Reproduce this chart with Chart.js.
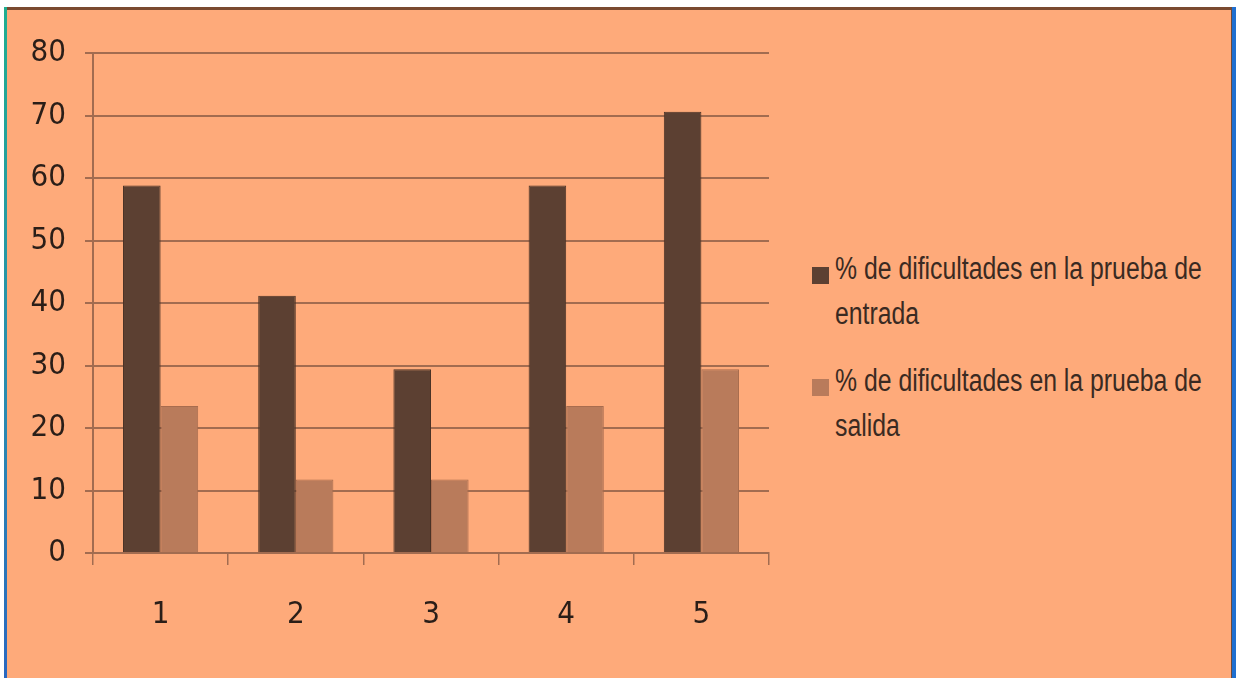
<!DOCTYPE html>
<html>
<head>
<meta charset="utf-8">
<script src="https://cdn.jsdelivr.net/npm/chart.js@4/dist/chart.umd.min.js"></script>
<style>
  html, body { margin: 0; padding: 0; background: #ffffff; width: 1236px; height: 678px; overflow: hidden; }
  #frame { position: absolute; left: 5px; top: 7px; width: 1227px; height: 671px; background: #FEAA7A;
           border-top: 3px solid #7a4a30; box-sizing: border-box; }
  #leftEdge { position: absolute; left: 4px; top: 7px; width: 3px; height: 671px;
              background: linear-gradient(#1fae90, #2a8ab0 60%, #2a68c0); }
  #rightEdge { position: absolute; left: 1231px; top: 7px; width: 5px; height: 671px;
               background: linear-gradient(90deg, #6a4a40 0 1px, #1f6fd0 1px); }
  #c { position: absolute; left: 0; top: 0; }
  .leg { position: absolute; left: 835px; font-family: "Liberation Sans", Arial, sans-serif;
         font-size: 31px; line-height: 45px; color: #3a2a22; white-space: nowrap;
         transform: scaleX(0.8); transform-origin: 0 0; }
  .sw { position: absolute; left: 812px; width: 17px; height: 17px; }
</style>
</head>
<body>
<div id="frame"></div>
<div id="leftEdge"></div>
<div id="rightEdge"></div>
<canvas id="c" width="800" height="678"></canvas>
<div id="legend"></div>
<script>
const categories = ["1", "2", "3", "4", "5"];
const seriesNames = ["% de dificultades en la prueba de entrada", "% de dificultades en la prueba de salida"];
const entrada = [58.82, 41.18, 29.41, 58.82, 70.59];
const salida = [23.53, 11.76, 11.76, 23.53, 29.41];
const yTicks = [0, 10, 20, 30, 40, 50, 60, 70, 80];
const colors = ["#5C4032", "#B97B5B"];

const gridColor = "#A26C50";
const fontFam = '"DejaVu Sans Condensed", "Liberation Sans", sans-serif';

new Chart(document.getElementById("c"), {
  type: "bar",
  data: {
    labels: categories,
    datasets: [
      { label: seriesNames[0], data: entrada, backgroundColor: colors[0], borderColor: "#4a3226", borderWidth: 1 },
      { label: seriesNames[1], data: salida, backgroundColor: colors[1], borderColor: "#a86c4e", borderWidth: 1 }
    ]
  },
  options: {
    responsive: false,
    devicePixelRatio: 1,
    animation: false,
    layout: { padding: { left: 0, top: 53, right: 31, bottom: 0 } },
    plugins: { legend: { display: false }, tooltip: { enabled: false } },
    datasets: { bar: { categoryPercentage: 0.556, barPercentage: 1.0 } },
    scales: {
      x: {
        offset: true,
        grid: { display: true, drawOnChartArea: false, drawTicks: true, tickLength: 12, color: gridColor, lineWidth: 1.5, offset: true },
        border: { display: true, color: gridColor, width: 2 },
        ticks: { color: "#2a1e18", font: { family: fontFam, size: 31 }, padding: 31 },
        afterFit: (s) => { s.height = 125; }
      },
      y: {
        min: 0, max: 80,
        afterBuildTicks: (s) => { s.ticks = yTicks.map(v => ({ value: v })); },
        grid: { color: gridColor, lineWidth: 2, tickLength: 8 },
        border: { display: true, color: gridColor, width: 2 },
        ticks: { color: "#2a1e18", font: { family: fontFam, size: 31 }, padding: 19 },
        afterFit: (s) => { s.width = 93; }
      }
    }
  }
});

// HTML legend built from series names / colors (wrapped before the last word, as in the original)
const legendTop = [246, 358];
const lg = document.getElementById("legend");
seriesNames.forEach((name, i) => {
  const sw = document.createElement("div");
  sw.className = "sw";
  sw.style.top = (legendTop[i] + 21) + "px";
  sw.style.background = colors[i];
  lg.appendChild(sw);
  const cut = name.lastIndexOf(" ");
  const t = document.createElement("div");
  t.className = "leg";
  t.style.top = legendTop[i] + "px";
  t.appendChild(document.createTextNode(name.slice(0, cut)));
  t.appendChild(document.createElement("br"));
  t.appendChild(document.createTextNode(name.slice(cut + 1)));
  lg.appendChild(t);
});
</script>
</body>
</html>
